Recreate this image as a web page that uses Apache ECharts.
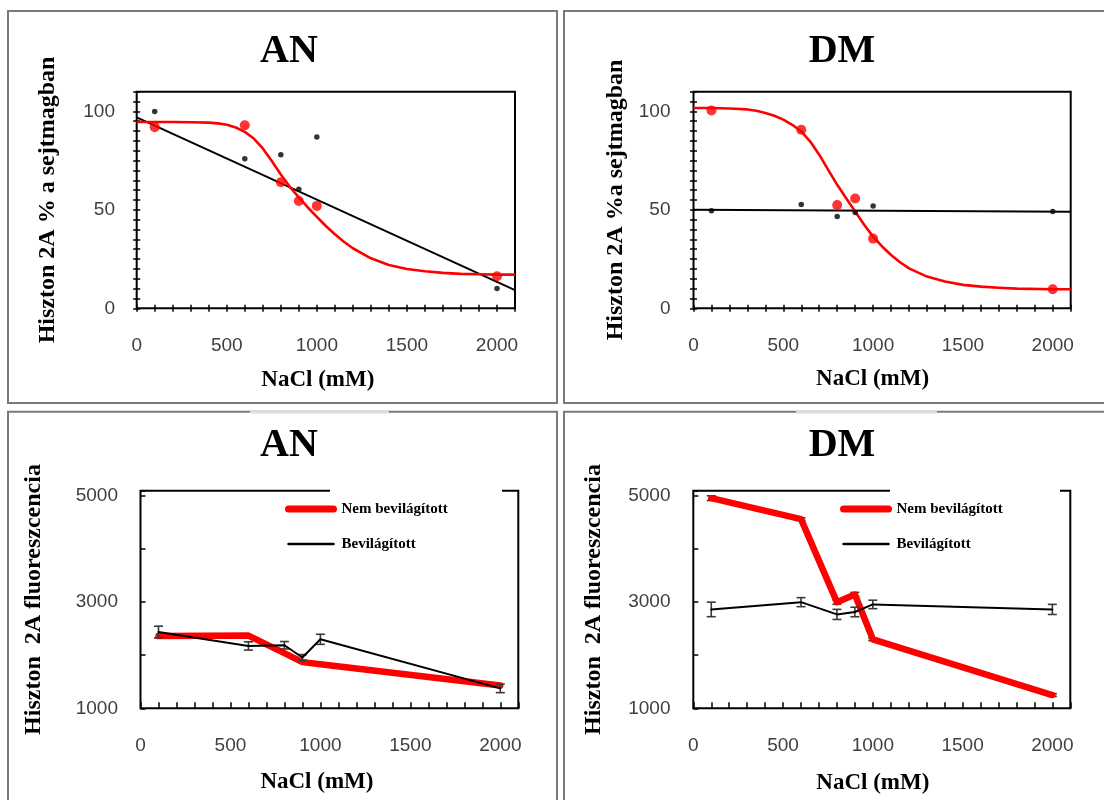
<!DOCTYPE html>
<html><head><meta charset="utf-8">
<script src="https://cdn.jsdelivr.net/npm/echarts@6/dist/echarts.min.js"></script>
<style>html,body{margin:0;padding:0;background:#fff}#c{width:1104px;height:800px}</style>
</head><body><div id="c"></div>
<script>
// ---- data ----
const conc = [100, 600, 800, 900, 1000, 2000];
// top-left "AN": % in nucleus
const anPctRed = [92, 93, 64, 54.5, 52, 16.3];
const anPctBlack = [100, 76, 78, 60.5, 87, 10];
const anFitBlackX = [0, 2100];
const anFitBlackY = [97, 9.2];
const anFitRedX = [0, 100, 200, 300, 400, 450, 500, 550, 600, 650, 700, 750, 800, 850, 900, 950, 1000, 1050, 1100, 1150, 1200, 1300, 1400, 1500, 1600, 1700, 1800, 1900, 2000, 2100];
const anFitRedY = [94.6, 94.6, 94.6, 94.5, 94.3, 93.9, 93.2, 91.8, 89.6, 86.2, 81.2, 74.8, 68, 61.7, 56.3, 51.2, 46.4, 41.8, 37.6, 33.8, 30.5, 25.4, 22, 20, 18.8, 18, 17.5, 17.3, 17.1, 17.1];
// top-right "DM"
const dmPctRed = [100.5, 90.7, 52.4, 55.8, 35.4, 9.7];
const dmPctBlack = [49.5, 52.7, 46.6, 48.6, 52.0, 49.2];
const dmFitBlackX = [0, 2100];
const dmFitBlackY = [50, 49];
const dmFitRedX = [0, 100, 200, 300, 350, 400, 450, 500, 550, 600, 650, 700, 750, 800, 850, 900, 950, 1000, 1050, 1100, 1150, 1200, 1300, 1400, 1500, 1600, 1700, 1800, 2000, 2100];
const dmFitRedY = [101.7, 101.7, 101.5, 101, 100.3, 99.2, 97.8, 95.8, 93.2, 89.8, 84.7, 78, 70.3, 62.7, 55.9, 49.2, 42.4, 36.4, 31.4, 27.1, 23.4, 20.3, 16.1, 13.6, 11.9, 11, 10.4, 10, 9.7, 9.7];
// bottom-left "AN": fluorescence
const anFlRed = [2360, 2370, 2040, 1870, 1830, 1430];
const anFlBlack = [2437, 2175, 2188, 1957, 2300, 1375];
const anFlBlackErr = [110, 78, 70, 55, 95, 80];
// bottom-right "DM"
const dmFlRed = [4959, 4565, 3000, 3144, 2300, 1250];
const dmFlRedErr = [45, 25, 40, 40, 25, 25];
const dmFlBlack = [2863, 3000, 2769, 2815, 2957, 2863];
const dmFlBlackErr = [137, 85, 95, 90, 80, 95];

const xTicksPct = ['0', '500', '1000', '1500', '2000'];
const yTicksPct = ['0', '50', '100'];
const yTicksFl = ['1000', '3000', '5000'];

const SERIF = '"Liberation Serif", "Times New Roman", serif';
const SANS = '"Liberation Sans", Arial, sans-serif';
const NAME_RED = 'Nem bevilágított';
const NAME_BLACK = 'Bevilágított';

const pair = (xs, ys) => xs.map((x, i) => [x, ys[i]]);
const trip = (xs, ys, es) => xs.map((x, i) => [x, ys[i], es[i]]);

const grids = [
  {left: 136.7, top: 91.7, width: 378.3, height: 216.6},
  {left: 693.5, top: 91.7, width: 377.2, height: 216.6},
  {left: 140.5, top: 490.7, width: 377.8, height: 217.6},
  {left: 693.3, top: 490.7, width: 377, height: 217.6}
].map(g => Object.assign(g, {show: true, borderColor: '#000', borderWidth: 2, backgroundColor: 'transparent', containLabel: false}));

const labelStyle = {fontFamily: SANS, fontSize: 19, color: '#404040'};
const nameStyle = (pad) => ({fontFamily: SERIF, fontWeight: 'bold', fontSize: 23, color: '#000', padding: pad});
const yNameStyle = {fontFamily: SERIF, fontWeight: 'bold', fontSize: 24, color: '#000'};

function xBottom(gi, gap, padR, tickLen) {
  return {
    gridIndex: gi, type: 'value', position: 'bottom', min: 0, max: 2100, interval: 100,
    axisLine: {show: false},
    axisTick: {show: true, inside: true, length: tickLen, lineStyle: {color: '#000', width: 1.5}},
    axisLabel: Object.assign({margin: 28, formatter: v => xTicksPct.includes(String(v)) ? String(v) : ''}, labelStyle),
    splitLine: {show: false},
    name: 'NaCl (mM)', nameLocation: 'middle', nameGap: gap, nameTextStyle: nameStyle([0, padR, 0, 0])
  };
}
function xTop(gi) {
  return {gridIndex: gi, type: 'value', position: 'top', min: 0, max: 2100, interval: 100,
    axisLine: {show: false}, axisTick: {show: true, inside: true, length: 3.5, lineStyle: {color: '#000', width: 1.5}},
    axisLabel: {show: false}, splitLine: {show: false}};
}
function yPct(gi, margin, gap, name) {
  return {gridIndex: gi, type: 'value', position: 'left', min: 0, max: 110, interval: 5,
    axisLine: {show: false},
    axisTick: {show: true, inside: true, length: 3.5, lineStyle: {color: '#000', width: 1.5}},
    axisLabel: Object.assign({margin: margin, formatter: v => yTicksPct.includes(String(v)) ? String(v) : ''}, labelStyle),
    splitLine: {show: false},
    name: name, nameLocation: 'middle', nameGap: gap, nameRotate: 90, nameTextStyle: yNameStyle};
}
function yRight(gi) {
  return {gridIndex: gi, type: 'value', position: 'right', min: 0, max: 110, interval: 5,
    axisLine: {show: false}, axisTick: {show: true, inside: true, length: 3.5, lineStyle: {color: '#000', width: 1.5}},
    axisLabel: {show: false}, splitLine: {show: false}};
}
function yFl(gi, margin, gap) {
  return {gridIndex: gi, type: 'value', position: 'left', min: 1000, max: 5100, interval: 1000,
    axisLine: {show: false},
    axisTick: {show: true, inside: true, length: 5, lineStyle: {color: '#000', width: 1.5}},
    axisLabel: Object.assign({margin: margin, formatter: v => yTicksFl.includes(String(v)) ? String(v) : ''}, labelStyle),
    splitLine: {show: false},
    name: 'Hiszton  2A fluoreszcencia', nameLocation: 'middle', nameGap: gap, nameRotate: 90, nameTextStyle: yNameStyle};
}

const xAxis = [xBottom(0, 60, 16, 3.5), xTop(0), xBottom(1, 59, 19, 3.5), xTop(1), xBottom(2, 62, 25, 6), xBottom(3, 63, 18, 6)];
const yAxis = [yPct(0, 21.7, 77, 'Hiszton 2A % a sejtmagban'), yRight(0), yPct(1, 23, 65.5, 'Hiszton 2A %a sejtmagban'), yRight(1), yFl(2, 22.5, 94.5), yFl(3, 22.8, 87.8)];

function errSeries(xi, yi, data, z) {
  return {
    type: 'custom', name: 'err', coordinateSystem: 'cartesian2d', xAxisIndex: xi, yAxisIndex: yi, z: z,
    data: data, encode: {x: 0, y: 1}, silent: true,
    renderItem: function (params, api) {
      const x = api.value(0), y = api.value(1), e = api.value(2);
      const t = api.coord([x, y + e]), b = api.coord([x, y - e]);
      const w = 4.5, st = {stroke: '#3a3a3a', lineWidth: 1.6};
      return {type: 'group', children: [
        {type: 'line', shape: {x1: t[0], y1: t[1], x2: b[0], y2: b[1]}, style: st},
        {type: 'line', shape: {x1: t[0] - w, y1: t[1], x2: t[0] + w, y2: t[1]}, style: st},
        {type: 'line', shape: {x1: b[0] - w, y1: b[1], x2: b[0] + w, y2: b[1]}, style: st}
      ]};
    }
  };
}
const fitLine = (xi, yi, data, color, w, z) => ({type: 'line', name: 'fit', xAxisIndex: xi, yAxisIndex: yi, data: data,
  showSymbol: false, symbol: 'none', smooth: false, lineStyle: {color: color, width: w, join: 'round'}, itemStyle: {color: color}, z: z, silent: true});
const pts = (xi, yi, data, color, size, z) => ({type: 'scatter', name: 'pts', xAxisIndex: xi, yAxisIndex: yi, data: data,
  symbolSize: size, itemStyle: {color: color}, z: z, silent: true});
const flLine = (xi, yi, data, name, color, w, z) => ({type: 'line', name: name, xAxisIndex: xi, yAxisIndex: yi, data: data,
  showSymbol: false, symbol: 'none', lineStyle: {color: color, width: w, cap: 'round', join: 'round'}, itemStyle: {color: color}, z: z, silent: true});

const series = [
  fitLine(0, 0, pair(anFitBlackX, anFitBlackY), '#000', 2, 3),
  fitLine(0, 0, pair(anFitRedX, anFitRedY), '#ff0000', 2.6, 4),
  pts(0, 0, pair(conc, anPctRed), '#ff0000', 10, 5),
  pts(0, 0, pair(conc, anPctBlack), '#000', 5.5, 6),

  fitLine(2, 2, pair(dmFitBlackX, dmFitBlackY), '#000', 2, 3),
  fitLine(2, 2, pair(dmFitRedX, dmFitRedY), '#ff0000', 2.6, 4),
  pts(2, 2, pair(conc, dmPctRed), '#ff0000', 10, 5),
  pts(2, 2, pair(conc, dmPctBlack), '#000', 5.5, 6),

  flLine(4, 4, pair(conc, anFlRed), NAME_RED, '#ff0000', 6.5, 3),
  errSeries(4, 4, trip(conc, anFlBlack, anFlBlackErr), 4),
  flLine(4, 4, pair(conc, anFlBlack), NAME_BLACK, '#000', 2, 5),

  errSeries(5, 5, trip(conc, dmFlRed, dmFlRedErr), 2),
  flLine(5, 5, pair(conc, dmFlRed), NAME_RED, '#ff0000', 6.5, 3),
  errSeries(5, 5, trip(conc, dmFlBlack, dmFlBlackErr), 4),
  flLine(5, 5, pair(conc, dmFlBlack), NAME_BLACK, '#000', 2, 5)
];

const legendBase = (left) => ({
  orient: 'vertical', left: left, top: 501.5, itemWidth: 45, itemHeight: 14, itemGap: 20, padding: 0,
  selectedMode: false, z: 120,
  textStyle: {fontFamily: SERIF, fontWeight: 'bold', fontSize: 15, color: '#000', padding: [0, 0, 0, 3]},
  data: [
    {name: NAME_RED, lineStyle: {width: 7, color: '#ff0000', cap: 'round'}, itemStyle: {opacity: 0, borderWidth: 0}},
    {name: NAME_BLACK, lineStyle: {width: 2.5, color: '#000'}, itemStyle: {opacity: 0, borderWidth: 0}}
  ]
});

const frame = (x, y, w, h) => ({type: 'rect', shape: {x: x, y: y, width: w, height: h},
  style: {fill: 'none', stroke: '#7a7a7a', lineWidth: 2}, z: 50, silent: true});
const title = (txt, x, y) => ({type: 'text', x: x, y: y, z: 60, silent: true,
  style: {text: txt, font: 'bold 40px ' + SERIF, fill: '#000', align: 'center', verticalAlign: 'middle'}});
const cover = (x, y, w, h, fill) => ({type: 'rect', shape: {x: x, y: y, width: w, height: h}, style: {fill: fill}, z: 110, silent: true});

const graphic = [
  frame(8, 11, 549, 392), frame(564, 11, 548, 392), frame(8, 411.7, 549, 400), frame(564, 411.7, 548, 400),
  cover(250, 410, 139, 3.5, '#dcdcdc'), cover(796, 410, 141, 3.5, '#dcdcdc'),
  cover(330, 488, 172, 6, '#fff'), cover(890, 488, 170, 6, '#fff'),
  title('AN', 289, 52), title('DM', 842, 52), title('AN', 289, 446), title('DM', 842, 446)
];

const chart = echarts.init(document.getElementById('c'), null, {renderer: 'canvas'});
chart.setOption({
  animation: false, backgroundColor: '#fff',
  grid: grids, xAxis: xAxis, yAxis: yAxis, series: series,
  legend: [legendBase(285), legendBase(840)],
  graphic: graphic
});
</script></body></html>
